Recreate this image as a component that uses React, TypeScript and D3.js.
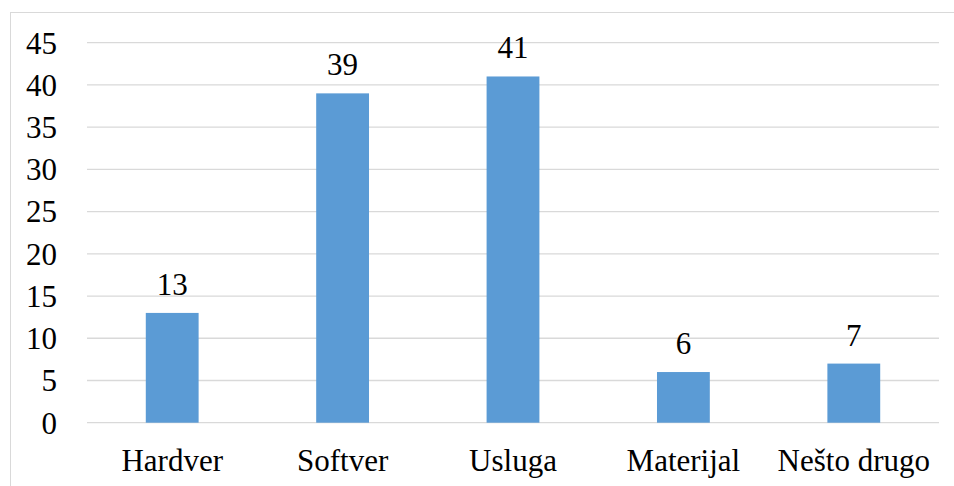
import React from "react";
import * as d3 from "d3";

const categories = ["Hardver", "Softver", "Usluga", "Materijal", "Nešto drugo"];
const values = [13, 39, 41, 6, 7];
const yTicks = [0, 5, 10, 15, 20, 25, 30, 35, 40, 45];

const W = 954;
const H = 486;
const SERIF = "Liberation Serif";

export default function App() {
  const x = d3.scaleBand<string>().domain(categories).range([87, 939]).padding(0);
  const y = d3.scaleLinear().domain([0, 45]).range([422.7, 42.7]);
  const barW = x.bandwidth() * 0.31;

  return (
    <svg
      width={W}
      height={H}
      style={{ position: "absolute", left: 0, top: 0, background: "#fff", fontFamily: SERIF }}
    >
      {/* chart frame */}
      <rect x={10.5} y={12.5} width={W + 10} height={H + 10} fill="none" stroke="#d9d9d9" strokeWidth={1} />

      {/* gridlines */}
      {yTicks.map((t) => (
        <line key={t} x1={87} x2={939} y1={y(t)} y2={y(t)} stroke="#d9d9d9" strokeWidth={1.3} />
      ))}

      {/* y tick labels */}
      {yTicks.map((t) => (
        <text key={"l" + t} x={57} y={y(t) + 10.8} textAnchor="end" fill="#000" fontSize={31} style={{ fontFamily: SERIF }}>
          {t}
        </text>
      ))}

      {/* bars with value labels and category labels */}
      {categories.map((c, i) => {
        const cx = (x(c) as number) + x.bandwidth() / 2;
        return (
          <g key={c}>
            <rect
              x={cx - barW / 2}
              y={y(values[i])}
              width={barW}
              height={y(0) - y(values[i])}
              fill="#5b9bd5"
            />
            <text x={cx} y={y(values[i]) - 18} textAnchor="middle" fill="#000" fontSize={31} style={{ fontFamily: SERIF }}>
              {values[i]}
            </text>
            <text x={cx} y={470.7} textAnchor="middle" fill="#000" fontSize={31} style={{ fontFamily: SERIF }}>
              {c}
            </text>
          </g>
        );
      })}
    </svg>
  );
}
